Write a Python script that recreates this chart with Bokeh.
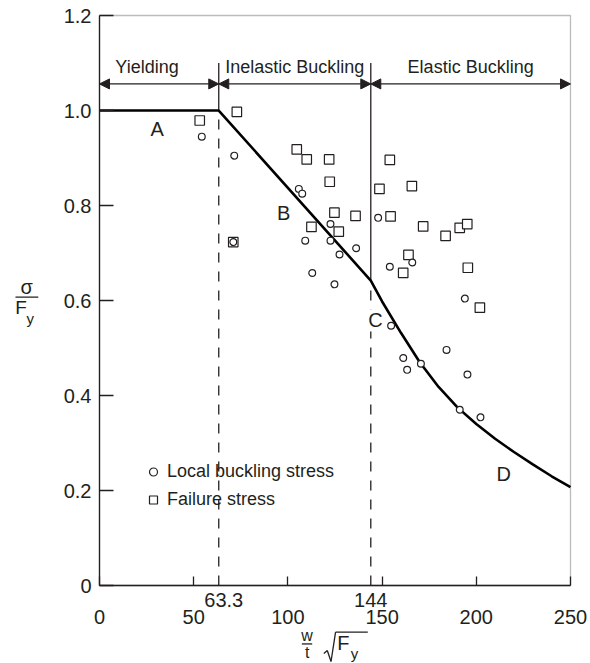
from bokeh.plotting import figure
from bokeh.models import (Range1d, FixedTicker, Label, Arrow, NormalHead, Legend, LegendItem,
                          CustomJSTickFormatter, BoxAnnotation)
from bokeh.embed import file_html
from bokeh.resources import INLINE

# ---------------- data ----------------
curve_x = [0, 63.3, 144, 150, 160, 170, 180, 190, 200, 210, 220, 230, 240, 250]
curve_y = [1.0, 1.0, 0.642, 0.598, 0.532, 0.470, 0.418, 0.375, 0.340, 0.309, 0.281, 0.255, 0.230, 0.207]

local_x = [54.3, 71.5, 71.0, 105.8, 107.6, 122.6, 109.2, 122.6, 127.4, 112.9, 124.7, 136.2,
           147.9, 166.0, 154.1, 193.9, 154.8, 161.2, 163.3, 170.6, 184.2, 195.3, 191.2, 202.2]
local_y = [0.945, 0.905, 0.723, 0.835, 0.825, 0.761, 0.726, 0.726, 0.697, 0.658, 0.634, 0.710,
           0.774, 0.680, 0.671, 0.604, 0.547, 0.479, 0.454, 0.467, 0.496, 0.444, 0.370, 0.354]

fail_x = [53.2, 72.9, 71.0, 104.7, 110.0, 121.9, 122.2, 124.7, 112.5, 127.0, 135.9, 154.5,
          154.1, 148.6, 165.8, 171.8, 183.7, 191.2, 195.2, 164.0, 161.2, 195.5, 201.9]
fail_y = [0.979, 0.997, 0.723, 0.918, 0.897, 0.897, 0.850, 0.785, 0.755, 0.745, 0.778, 0.777,
          0.896, 0.835, 0.841, 0.756, 0.736, 0.753, 0.761, 0.696, 0.658, 0.669, 0.585]

limits = [0, 63.3, 144, 250]
region_names = ["Yielding", "Inelastic Buckling", "Elastic Buckling"]
point_names = ["A", "B", "C", "D"]
x_ticks = [0, 50, 100, 150, 200, 250]
y_ticks = [0, 0.2, 0.4, 0.6, 0.8, 1.0, 1.2]
x_lim = (0, 250)
y_lim = (0, 1.2)

# ---------------- styling ----------------
INK = "#231f20"
FONT = "Liberation Sans"

# the frame fills the whole canvas; axes are pinned to the data origin
p = figure(width=590, height=663, output_backend="svg", toolbar_location=None,
           x_range=Range1d(-52.55, 260.62), y_range=Range1d(-0.1642, 1.2316),
           min_border=0)
p.grid.visible = False
p.outline_line_color = None
p.background_fill_color = "white"
p.border_fill_color = "white"

for ax in (p.xaxis[0], p.yaxis[0]):
    ax.fixed_location = 0
    ax.axis_line_color = INK
    ax.axis_line_width = 1.3
    ax.major_tick_line_color = INK
    ax.major_tick_line_width = 1.3
    ax.major_tick_out = 0
    ax.minor_tick_line_color = None
    ax.major_label_text_font = FONT
    ax.major_label_text_font_size = "20px"
    ax.major_label_text_color = INK

p.xaxis.bounds = x_lim
p.yaxis.bounds = y_lim
p.xaxis.ticker = FixedTicker(ticks=x_ticks)
p.xaxis.major_tick_in = 9
p.xaxis.major_label_standoff = 24
p.yaxis.ticker = FixedTicker(ticks=y_ticks)
p.yaxis.major_tick_in = 14
p.yaxis.major_label_standoff = 8
p.yaxis.formatter = CustomJSTickFormatter(code="return tick == 0 ? '0' : tick.toFixed(1);")

# plot box (top and right edges)
p.add_layout(BoxAnnotation(left=x_lim[0], right=x_lim[1], bottom=y_lim[0], top=y_lim[1],
                           fill_alpha=0, line_color=INK, line_width=1.3))

# vertical boundary lines (dashed below the curve, solid above)
idx63 = curve_x.index(limits[1])
idx144 = curve_x.index(limits[2])
top = 1.10
for i, xb in zip((idx63, idx144), limits[1:3]):
    p.line([xb, xb], [0, curve_y[i]], line_color=INK, line_width=1.3, line_dash="10 9")
    p.line([xb, xb], [curve_y[i], top], line_color=INK, line_width=1.3)

# design curve
p.line(curve_x, curve_y, line_color="black", line_width=2.6)

# scatter data
r_fail = p.scatter(fail_x, fail_y, marker="square", size=9.5, fill_color="white",
                   line_color=INK, line_width=1.2)
r_local = p.scatter(local_x, local_y, marker="circle", size=6.8, fill_color="white",
                    line_color=INK, line_width=1.2)

# region arrows and names
arrow_y = 1.056
for a, b in zip(limits[:-1], limits[1:]):
    p.add_layout(Arrow(x_start=a, y_start=arrow_y, x_end=b, y_end=arrow_y,
                       line_color=INK, line_width=1.3,
                       start=NormalHead(size=10, fill_color=INK, line_color=INK, line_width=1),
                       end=NormalHead(size=10, fill_color=INK, line_color=INK, line_width=1)))
name_x = [25.2, (limits[1] + limits[2]) / 2, (limits[2] + limits[3]) / 2]
for nx, name in zip(name_x, region_names):
    p.add_layout(Label(x=nx, y=1.091, text=name, text_align="center", text_baseline="middle",
                       text_font=FONT, text_font_size="18px", text_color=INK))

# point labels
pt_pos = [(30.6, 0.961), (97.8, 0.784), (146.5, 0.558), (214.6, 0.234)]
for (px_, py_), name in zip(pt_pos, point_names):
    lab_ = Label(x=px_, y=py_, text=name, text_align="center", text_baseline="middle",
                 text_font=FONT, text_font_size="20px", text_color=INK)
    if name == "C":
        lab_.background_fill_color = "white"
    p.add_layout(lab_)

# special x labels for the limits
for xb, txt, off in zip(limits[1:3], ["63.3", "144"], [5, 0]):
    p.add_layout(Label(x=xb, y=-0.0295, x_offset=off, text=txt, text_align="center",
                       text_baseline="middle", text_font=FONT, text_font_size="20px",
                       text_color=INK))

# legend
legend = Legend(items=[LegendItem(label="Local buckling stress", renderers=[r_local]),
                       LegendItem(label="Failure stress", renderers=[r_fail])],
                location=(143, 153), border_line_color=None, background_fill_alpha=0,
                padding=0, margin=0, spacing=7, glyph_width=20, glyph_height=21,
                label_height=21, label_standoff=4,
                label_text_font=FONT, label_text_font_size="18px", label_text_color=INK)
p.add_layout(legend)

# axis titles drawn as stacked text
def lab(x, y, t, size):
    p.add_layout(Label(x=x, y=y, text=t, text_align="center", text_baseline="middle",
                       text_font=FONT, text_font_size=size, text_color=INK))

def seg(x0, y0, x1, y1, w=1.3):
    p.add_layout(Arrow(x_start=x0, y_start=y0, x_end=x1, y_end=y1, start=None, end=None,
                       line_color=INK, line_width=w))

# sigma / F_y
lab(-38.6, 0.629, "σ", "20px")
seg(-44.6, 0.607, -32.5, 0.607)
lab(-41.7, 0.585, "F", "19px")
lab(-36.8, 0.562, "y", "15px")

# w/t sqrt(F_y)
lab(110.2, -0.106, "w", "16px")
seg(107.4, -0.123, 112.9, -0.123)
lab(110.2, -0.140, "t", "16px")
seg(119.1, -0.143, 120.9, -0.137)
seg(120.9, -0.137, 122.9, -0.160)
seg(122.9, -0.160, 125.3, -0.098)
seg(125.3, -0.098, 142.4, -0.098)
lab(129.5, -0.122, "F", "20px")
lab(135.3, -0.143, "y", "15px")

open("out.html", "w").write(file_html(p, INLINE))
